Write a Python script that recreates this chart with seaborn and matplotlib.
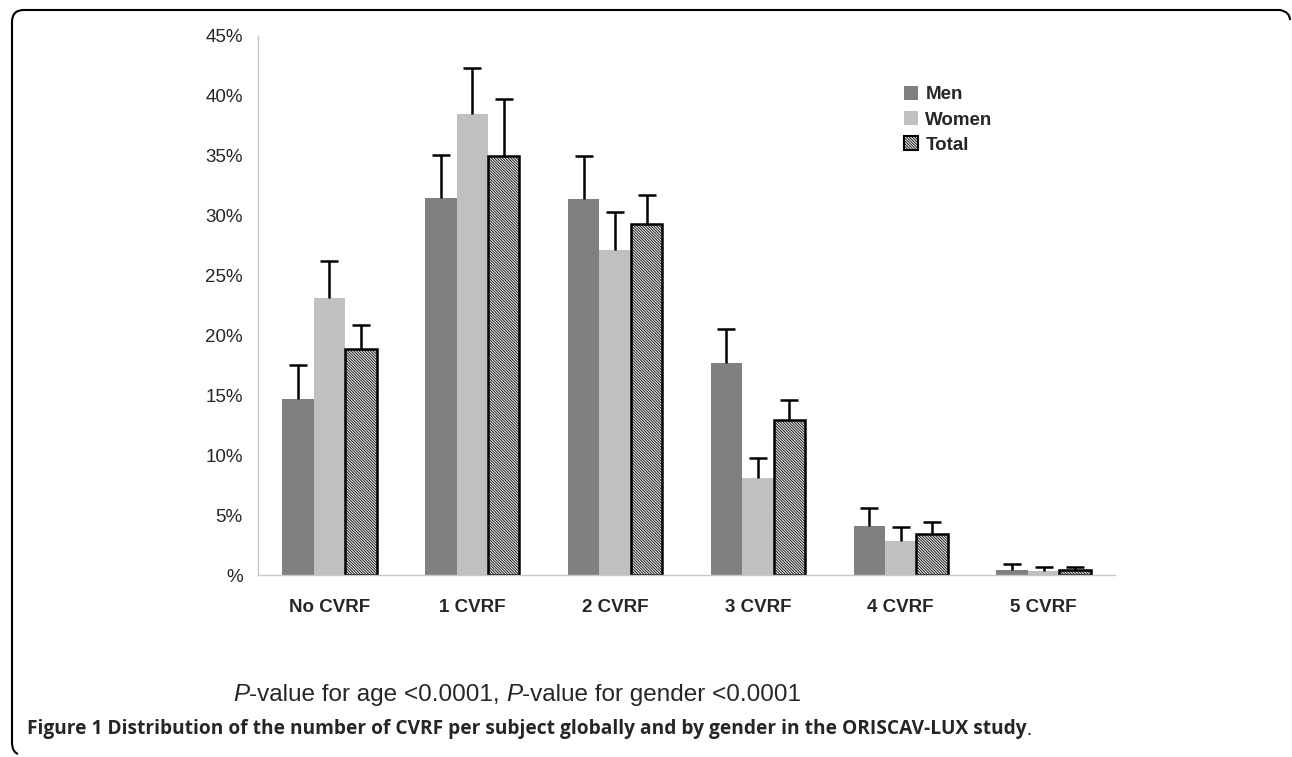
import matplotlib
matplotlib.use("Agg")
import matplotlib.pyplot as plt
from matplotlib.patches import Patch, PathPatch
from matplotlib.path import Path
from matplotlib.ticker import FixedLocator
import seaborn as sns
import pandas as pd
import numpy as np

# data (percent of subjects)
categories = ["No CVRF", "1 CVRF", "2 CVRF", "3 CVRF", "4 CVRF", "5 CVRF"]
groups = ["Men", "Women", "Total"]
men = [14.7, 31.5, 31.4, 17.7, 4.1, 0.4]
women = [23.1, 38.5, 27.1, 8.1, 2.8, 0.3]
total = [18.9, 35.0, 29.3, 12.9, 3.4, 0.45]
men_hi = [17.5, 35.1, 35.0, 20.5, 5.6, 0.9]
women_hi = [26.2, 42.3, 30.3, 9.8, 4.0, 0.7]
total_hi = [20.9, 39.7, 31.7, 14.6, 4.4, 0.7]
ytick_vals = [0, 5, 10, 15, 20, 25, 30, 35, 40, 45]
ytick_labels = ["%", "5%", "10%", "15%", "20%", "25%", "30%", "35%", "40%", "45%"]
colors = {"Men": "#808080", "Women": "#c0c0c0", "Total": "#e2e2e2"}
HATCH = "\\" * 12

df = pd.DataFrame({
    "category": categories * 3,
    "group": np.repeat(groups, len(categories)),
    "value": men + women + total,
    "upper": men_hi + women_hi + total_hi,
})

sns.set_style("white")
plt.rcParams["font.family"] = ["Liberation Sans", "DejaVu Sans"]
plt.rcParams["hatch.linewidth"] = 0.55

W, H = 1292, 757
fig = plt.figure(figsize=(W / 100, H / 100), dpi=100)
ax = fig.add_axes([258 / W, 1 - 575 / H, 857 / W, 539 / H])

sns.barplot(data=df, x="category", y="value", hue="group", order=categories,
            hue_order=groups, palette=colors, width=0.66, gap=0,
            errorbar=None, legend=False, ax=ax, linewidth=0, saturation=1)

# hatched total bars
for p in ax.containers[2]:
    p.set_hatch(HATCH)
    p.set_edgecolor("black")
    p.set_linewidth(1.8)

# upper error bars: stem + cap only at the top
for cont, g in zip(list(ax.containers), groups):
    sub = df[df.group == g]
    xs = np.array([p.get_x() + p.get_width() / 2 for p in cont])
    vals = sub["value"].to_numpy()
    hi = sub["upper"].to_numpy()
    ax.vlines(xs, vals, hi, color="black", linewidth=1.8, zorder=1)
    ax.plot(xs, hi, linestyle="none", marker="_", markersize=13,
            markeredgewidth=1.8, color="black", zorder=1)

ax.set_xlim(-0.5, 5.5)
ax.set_ylim(0, 45)
ax.set_yticks(ytick_vals)
ax.set_yticklabels(ytick_labels, fontsize=13.5)
ax.set_xlabel("")
ax.set_ylabel("")
ax.xaxis.set_minor_locator(FixedLocator(np.arange(-0.5, 6, 1)))
ax.tick_params(axis="x", which="major", length=0, pad=17)
ax.tick_params(axis="x", which="minor", length=7, color="#c8c8c8", width=1)
ax.tick_params(axis="y", length=6, color="#c8c8c8", width=1, pad=5)
for lab in ax.get_xticklabels():
    lab.set_fontweight("bold")
    lab.set_fontsize(13.5)
for s in ["top", "right"]:
    ax.spines[s].set_visible(False)
for s in ["left", "bottom"]:
    ax.spines[s].set_color("#c8c8c8")
    ax.spines[s].set_linewidth(1)

handles = [Patch(facecolor=colors["Men"], edgecolor="none"),
           Patch(facecolor=colors["Women"], edgecolor="none"),
           Patch(facecolor=colors["Total"], edgecolor="black", hatch=HATCH, linewidth=1.5)]
fig.legend(handles, groups, loc="upper left", bbox_to_anchor=(887 / W, 1 - 69 / H),
           frameon=False, handlelength=0.75, handleheight=0.75, handletextpad=0.4,
           labelspacing=0.42, prop={"weight": "bold", "size": 13.5})

# footnote with italic P, pieces chained one after another
t1 = fig.text(233 / W, 1 - 701 / H, "P", fontsize=17.5, style="italic", va="baseline")
prev = t1
for txt, st in [("-value for age <0.0001, ", "normal"), ("P", "italic"),
                ("-value for gender <0.0001", "normal")]:
    prev = ax.annotate(txt, xy=(1, 0), xycoords=prev, fontsize=17.5, style=st,
                       va="bottom", ha="left", annotation_clip=False)

# caption
cap_font = ["Open Sans", "DejaVu Sans"]
cap1 = fig.text(27 / W, 1 - 734 / H, "Figure 1 Distribution of the number of CVRF per subject globally and by gender in the ORISCAV-LUX study",
                fontsize=13.8, fontweight="bold", family=cap_font, va="baseline")
ax.annotate(".", xy=(1, 0), xycoords=cap1, fontsize=13.8, family=cap_font,
            va="bottom", ha="left", annotation_clip=False)

# rounded frame (top and left edges)
def fp(px, py):
    return (px / W, 1 - py / H)

verts = [fp(1290, 20), fp(1290, 12), fp(1280, 10), fp(24, 10), fp(12, 10), fp(12, 22),
         fp(12, 742), fp(12, 752), fp(18, 754)]
codes = [Path.MOVETO, Path.CURVE3, Path.CURVE3, Path.LINETO, Path.CURVE3, Path.CURVE3,
         Path.LINETO, Path.CURVE3, Path.CURVE3]
fig.patches.append(PathPatch(Path(verts, codes), transform=fig.transFigure,
                             facecolor="none", edgecolor="black", linewidth=1.5))

fig.savefig("out.png", dpi=100)
